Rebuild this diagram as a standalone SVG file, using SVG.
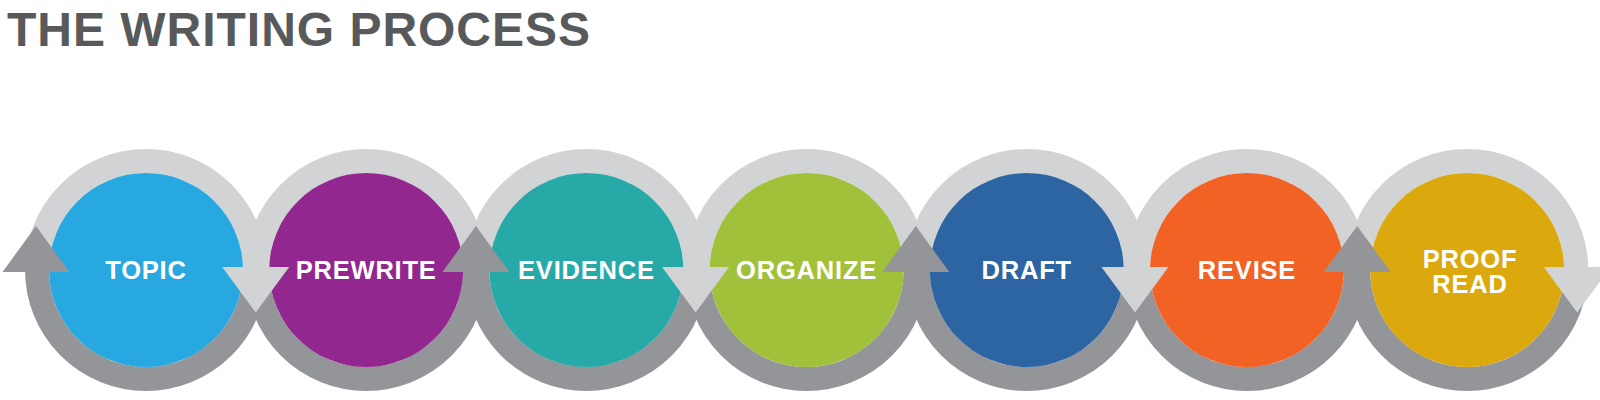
<svg xmlns="http://www.w3.org/2000/svg" width="1600" height="400" viewBox="0 0 1600 400">
  <style>
    .top { fill: none; stroke: #d1d3d4; stroke-width: 24; }
    .bot { fill: none; stroke: #939598; stroke-width: 24; }
    .lbl { font-family: "Liberation Sans", Arial, sans-serif; font-weight: bold; font-size: 25.5px; fill: #ffffff; text-anchor: middle; letter-spacing: 0.8px; }
    .title { font-family: "Liberation Sans", Arial, sans-serif; font-weight: bold; font-size: 48px; fill: #58595b; }
    .up { fill: #939598; }
    .down { fill: #d1d3d4; }
  </style>
  <rect width="1600" height="400" fill="#ffffff"/>
  <text class="title" x="7" y="46" textLength="583" lengthAdjust="spacing">THE WRITING PROCESS</text>

  <g id="topic">
    <path class="top" d="M37,270 A109,109 0 0 1 255,270"/>
    <path class="bot" d="M255,270 A109,109 0 0 1 37,270"/>
    <circle cx="146" cy="270" r="97" fill="#27a8e1"/>
    <text class="lbl" x="146" y="278.5">TOPIC</text>
  </g>
  <g id="prewrite">
    <path class="top" d="M257.2,270 A109,109 0 0 1 475.2,270"/>
    <path class="bot" d="M475.2,270 A109,109 0 0 1 257.2,270"/>
    <circle cx="366.2" cy="270" r="97" fill="#92278f"/>
    <text class="lbl" x="366.2" y="278.5">PREWRITE</text>
  </g>
  <g id="evidence">
    <path class="top" d="M477.4,270 A109,109 0 0 1 695.4,270"/>
    <path class="bot" d="M695.4,270 A109,109 0 0 1 477.4,270"/>
    <circle cx="586.4" cy="270" r="97" fill="#27a9a7"/>
    <text class="lbl" x="586.4" y="278.5">EVIDENCE</text>
  </g>
  <g id="organize">
    <path class="top" d="M697.6,270 A109,109 0 0 1 915.6,270"/>
    <path class="bot" d="M915.6,270 A109,109 0 0 1 697.6,270"/>
    <circle cx="806.6" cy="270" r="97" fill="#a2c13b"/>
    <text class="lbl" x="806.6" y="278.5">ORGANIZE</text>
  </g>
  <g id="draft">
    <path class="top" d="M917.8,270 A109,109 0 0 1 1135.8,270"/>
    <path class="bot" d="M1135.8,270 A109,109 0 0 1 917.8,270"/>
    <circle cx="1026.8" cy="270" r="97" fill="#2c65a1"/>
    <text class="lbl" x="1026.8" y="278.5">DRAFT</text>
  </g>
  <g id="revise">
    <path class="top" d="M1138,270 A109,109 0 0 1 1356,270"/>
    <path class="bot" d="M1356,270 A109,109 0 0 1 1138,270"/>
    <circle cx="1247" cy="270" r="97" fill="#f26224"/>
    <text class="lbl" x="1247" y="278.5">REVISE</text>
  </g>
  <g id="proofread">
    <path class="top" d="M1358.2,270 A109,109 0 0 1 1576.2,270"/>
    <path class="bot" d="M1576.2,270 A109,109 0 0 1 1358.2,270"/>
    <circle cx="1467.2" cy="270" r="97" fill="#dba90d"/>
    <text class="lbl" x="1470" y="268"><tspan x="1470">PROOF</tspan><tspan x="1470" y="293">READ</tspan></text>
  </g>

  <g id="connectors">
    <polygon class="up" points="2.5,272 69.5,272 36,226"/>
    <polygon class="down" points="222.2,267 289.2,267 255.7,312.5"/>
    <polygon class="up" points="442.4,272 509.4,272 475.9,226"/>
    <polygon class="down" points="662.1,267 729.1,267 695.6,312.5"/>
    <polygon class="up" points="882.3,272 949.3,272 915.8,226"/>
    <polygon class="down" points="1101.5,267 1168.5,267 1135,312.5"/>
    <polygon class="up" points="1323.7,272 1390.7,272 1357.2,226"/>
    <polygon class="down" points="1543.7,267 1610.7,267 1577.2,312.5"/>
  </g>
</svg>
